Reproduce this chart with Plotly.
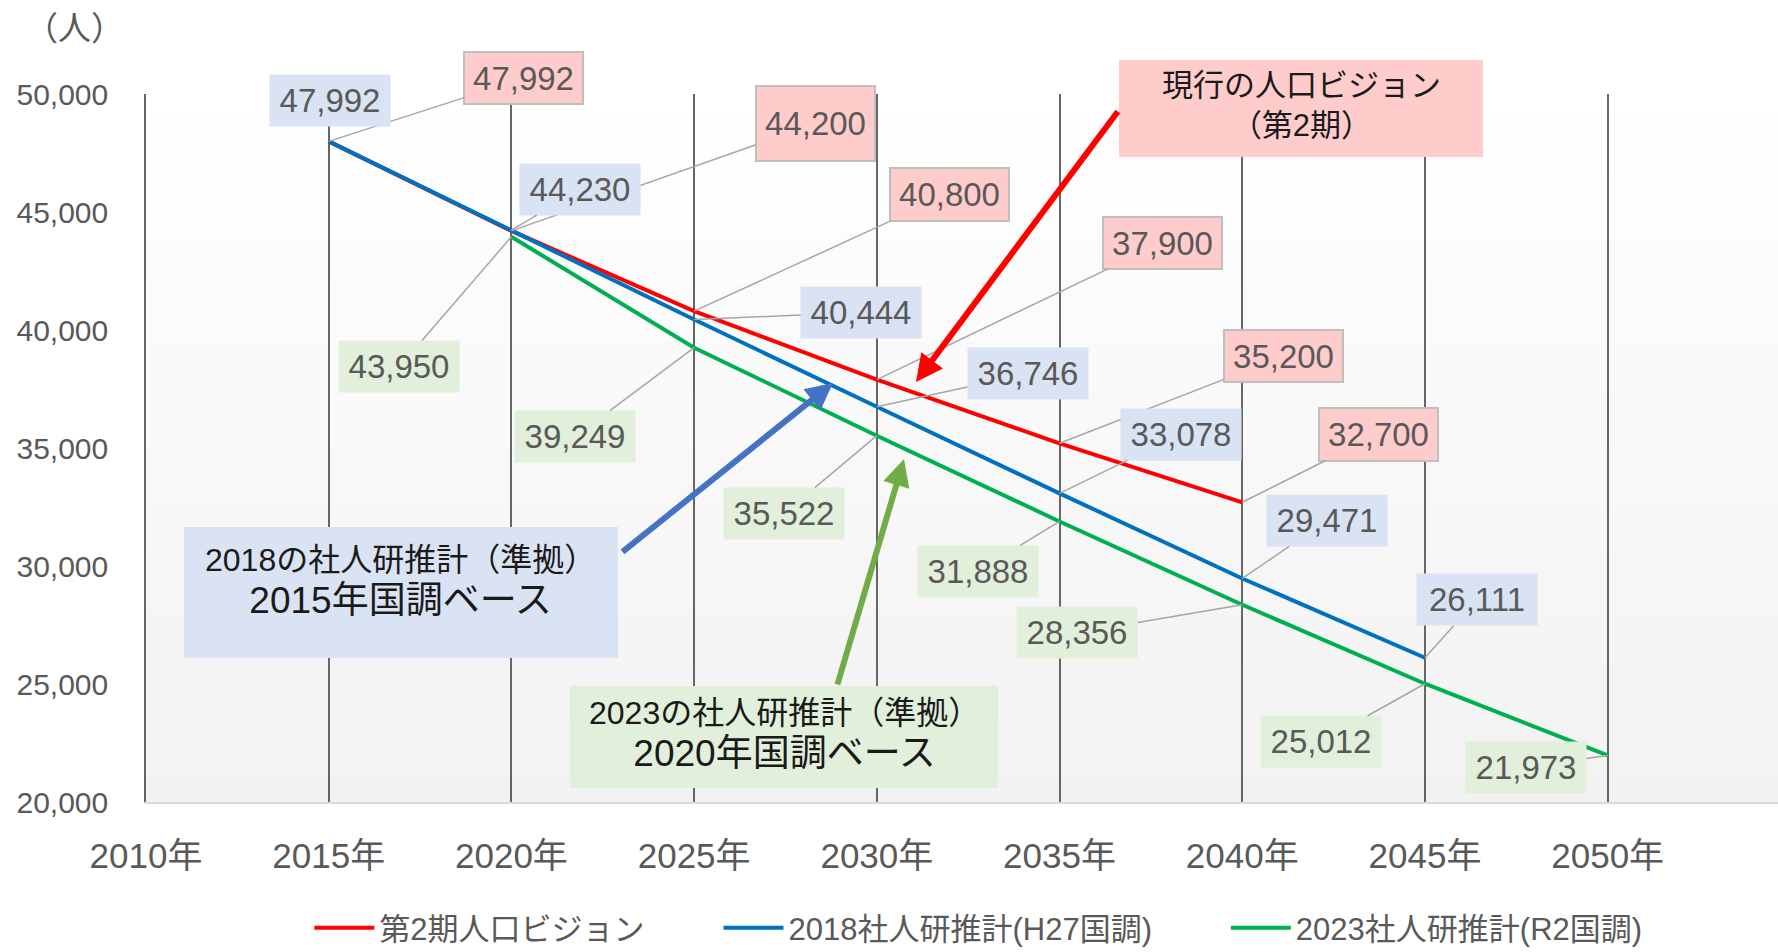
import plotly.graph_objects as go

# ---------------- data ----------------
tick_years = [2010, 2015, 2020, 2025, 2030, 2035, 2040, 2045, 2050]
tick_text = ["2010年", "2015年", "2020年", "2025年", "2030年", "2035年", "2040年", "2045年", "2050年"]
y_ticks = [20000, 25000, 30000, 35000, 40000, 45000, 50000]

vision_years = [2015, 2020, 2025, 2030, 2035, 2040]
vision_values = [47992, 44200, 40800, 37900, 35200, 32700]

ipss2018_years = [2015, 2020, 2025, 2030, 2035, 2040, 2045]
ipss2018_values = [47992, 44230, 40444, 36746, 33078, 29471, 26111]

ipss2023_years = [2020, 2025, 2030, 2035, 2040, 2045, 2050]
ipss2023_values = [43950, 39249, 35522, 31888, 28356, 25012, 21973]

series_names = ["第2期人口ビジョン", "2018社人研推計(H27国調)", "2023社人研推計(R2国調)"]
unit_label = "（人）"
callout_vision = ["現行の人口ビジョン", "（第2期）"]
callout_2018 = ["2018の社人研推計（準拠）", "2015年国調ベース"]
callout_2023 = ["2023の社人研推計（準拠）", "2020年国調ベース"]

# ---------------- layout constants ----------------
W, H = 1778, 952
ML, MR, MT, MB = 146, 0, 94, 150
PW, PH = W - ML - MR, H - MT - MB
FONT = "Liberation Sans, Noto Sans CJK JP, sans-serif"
TXT = "#595959"
PAD = "\u00a0" * 8  # extra spacing between legend entries

def px(x, y):
    """pixel position in the figure -> paper coordinates"""
    return (x - ML) / PW, (H - MB - y) / PH

# label offsets (pixels, box centre relative to point)
vision_offsets = [(195, -63), (304, -107), (255, -117), (286, -137), (224, -87), (136, -68)]
vision_box_h = [42, 65, 43, 42, 42, 43]
ipss2018_offsets = [(1, -41), (69, -41), (167, -7), (151, -33), (121, -59), (85, -58), (52, -58)]
ipss2023_offsets = [(-112, 130), (-119, 89), (-93, 78), (-82, 50), (-165, 28), (-104, 58), (-82, 12)]

series = [
    (series_names[0] + PAD, vision_years, vision_values, "#ff0000"),
    (series_names[1] + PAD, ipss2018_years, ipss2018_values, "#0070c0"),
    (series_names[2], ipss2023_years, ipss2023_values, "#00b050"),
]

fig = go.Figure()
for name, xs, ys, col in series:
    fig.add_trace(go.Scatter(x=xs, y=ys, mode="lines", name=name,
                             line=dict(color=col, width=4), hoverinfo="skip"))

annotations = []

def add_label(xv, yv, off, bg, border, h, arrow=True):
    ann = dict(x=xv, y=yv, xref="x", yref="y", text=f"{yv:,}",
               font=dict(family=FONT, size=33, color=TXT),
               bgcolor=bg, borderpad=4, width=112, height=h,
               align="center", valign="middle")
    if border:
        ann.update(bordercolor="#bfbfbf", borderwidth=2, width=109)
    if arrow:
        ann.update(showarrow=True, ax=off[0], ay=off[1], axref="pixel", ayref="pixel",
                   arrowhead=0, arrowwidth=1.5, arrowcolor="#a6a6a6", standoff=0)
    else:
        ann.update(showarrow=False, xshift=off[0], yshift=-off[1],
                   xanchor="center", yanchor="middle")
    annotations.append(ann)

for i, (xv, yv) in enumerate(zip(vision_years, vision_values)):
    add_label(xv, yv, vision_offsets[i], "#ffcccc", True, vision_box_h[i])
for i, (xv, yv) in enumerate(zip(ipss2018_years, ipss2018_values)):
    add_label(xv, yv, ipss2018_offsets[i], "#dae3f3", False, 43, arrow=(i != 0))
for i, (xv, yv) in enumerate(zip(ipss2023_years, ipss2023_values)):
    add_label(xv, yv, ipss2023_offsets[i], "#e2efda", False, 43)

# unit label
ux, uy = px(74, 28)
annotations.append(dict(x=ux, y=uy, xref="paper", yref="paper", text=unit_label,
                        showarrow=False, xanchor="center", yanchor="middle",
                        font=dict(family=FONT, size=33, color=TXT)))

# background gradient + callout boxes (shapes)
shapes = []
n = 60
for i in range(n):
    t = (i + 0.5) / n
    c = int(round(242 + (255 - 242) * t))
    shapes.append(dict(type="rect", xref="paper", yref="paper", x0=0, x1=1,
                       y0=i / n, y1=min(1, (i + 1) / n + 0.003), layer="below",
                       line=dict(width=0), fillcolor=f"rgb({c},{c},{c})"))

def box(x0, y0, x1, y1, col):
    a, b = px(x0, y0)
    c, d = px(x1, y1)
    shapes.append(dict(type="rect", xref="paper", yref="paper", x0=a, x1=c, y0=d, y1=b,
                       layer="above", line=dict(width=0), fillcolor=col))

box(1119, 60, 1483, 157, "#ffcccc")
box(184, 527, 618, 658, "#dae3f3")
box(570, 686, 998, 788, "#e2efda")

def arrow(tip, tail, col):
    x, y = px(*tip)
    annotations.append(dict(x=x, y=y, xref="paper", yref="paper", text="",
                            showarrow=True, ax=tail[0] - tip[0], ay=tail[1] - tip[1],
                            axref="pixel", ayref="pixel", arrowhead=2, arrowsize=0.9,
                            arrowwidth=6, arrowcolor=col, standoff=0))

arrow((916, 382), (1119, 110), "#ff0000")
arrow((833, 383), (621, 553), "#4472c4")
arrow((904, 459), (837, 686), "#70ad47")

def callout_text(cx, cy, lines, s1, s2):
    x, y = px(cx, cy)
    txt = f"<span style='font-size:{s1}px'>{lines[0]}</span><br><span style='font-size:{s2}px'>{lines[1]}</span>"
    annotations.append(dict(x=x, y=y, xref="paper", yref="paper", text=txt, showarrow=False,
                            align="center", xanchor="center", yanchor="middle",
                            font=dict(family=FONT, size=s1, color="#1a1a1a")))

callout_text(1301, 105, callout_vision, 31, 31)
callout_text(400, 581, callout_2018, 32, 37)
callout_text(784, 734, callout_2023, 32, 37)

fig.update_layout(
    width=W, height=H,
    margin=dict(l=ML, r=MR, t=MT, b=MB, autoexpand=False),
    paper_bgcolor="white", plot_bgcolor="rgba(0,0,0,0)",
    font=dict(family=FONT, color=TXT),
    showlegend=True,
    legend=dict(orientation="h", x=0.510, xanchor="center", yref="container", y=0.025,
                yanchor="middle", itemwidth=60,
                font=dict(family=FONT, size=31, color=TXT),
                bgcolor="rgba(0,0,0,0)"),
    annotations=annotations,
    shapes=shapes,
)
fig.update_xaxes(range=[2010, 2010 + PW / (1608 - 146.3) * 40], tickvals=tick_years,
                 ticktext=tick_text, showgrid=True, gridcolor="#666666", gridwidth=1.5,
                 showline=True, linecolor="#d9d9d9", linewidth=2, zeroline=False,
                 ticks="outside", ticklen=22, tickcolor="rgba(0,0,0,0)",
                 tickfont=dict(family=FONT, size=35, color=TXT), fixedrange=True)
fig.update_yaxes(range=[20000, 50000], tickvals=y_ticks, tickformat=",",
                 showgrid=False, zeroline=False, showline=True, linecolor="#666666",
                 linewidth=1.5, ticks="outside", ticklen=30, tickcolor="rgba(0,0,0,0)",
                 tickfont=dict(family=FONT, size=30, color=TXT), fixedrange=True)

fig.write_html("out.html", config={"displayModeBar": False},
               post_script="document.body.style.margin='0px';")
